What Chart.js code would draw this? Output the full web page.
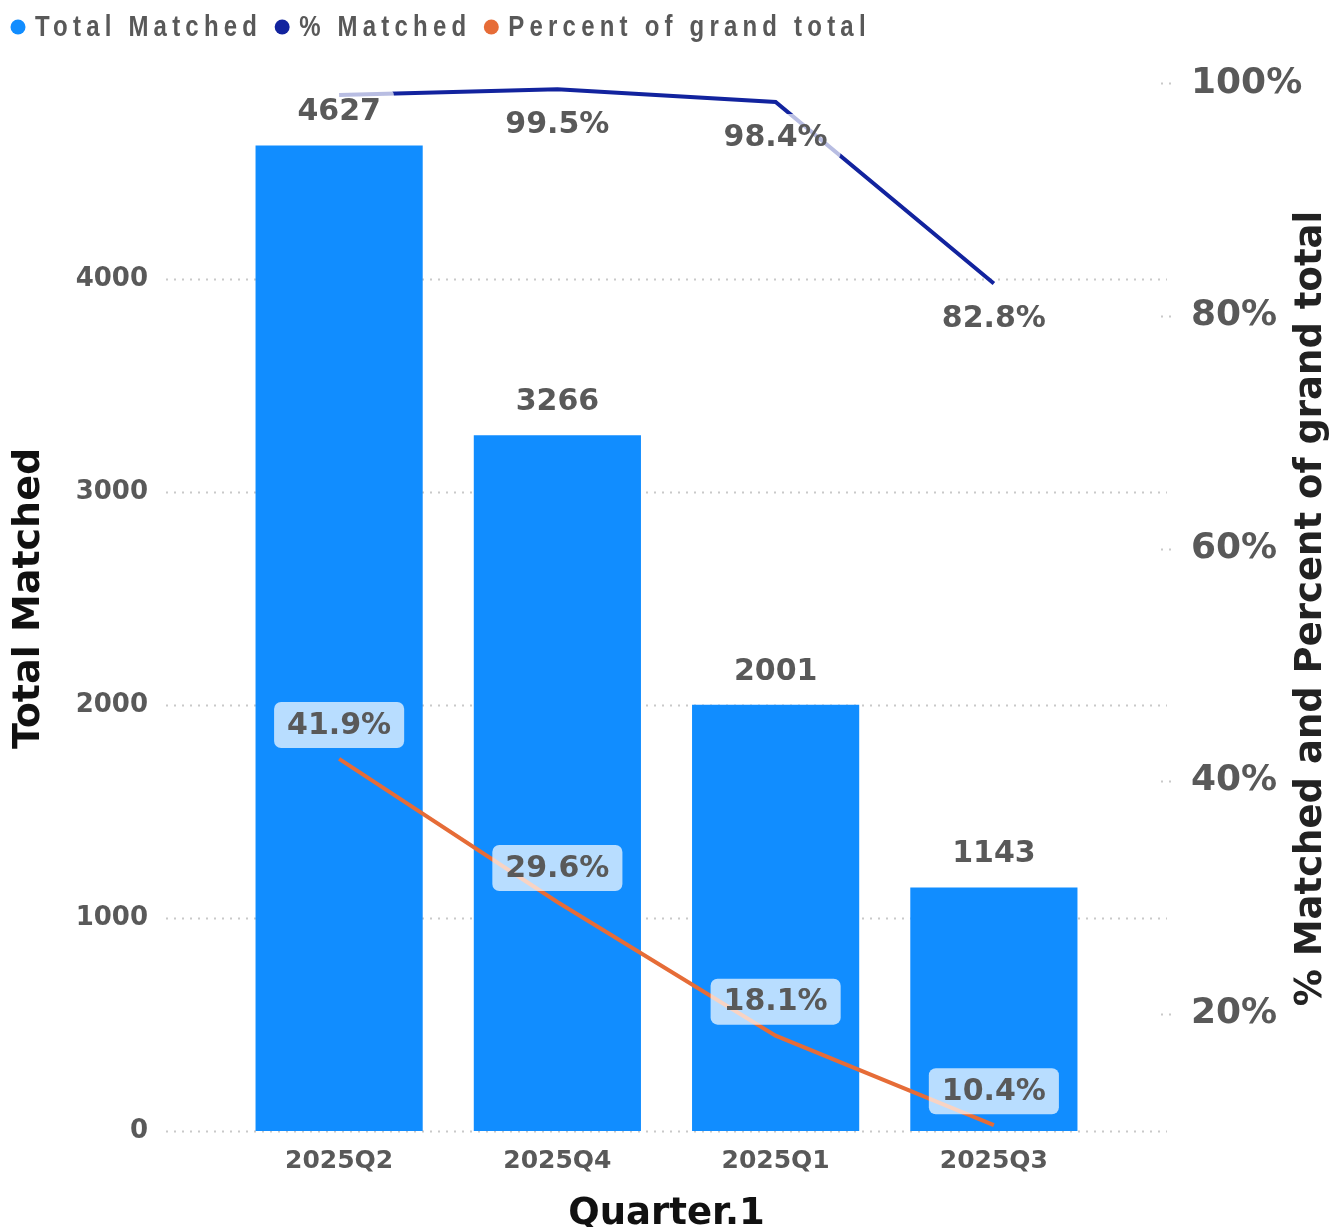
<!DOCTYPE html>
<html>
<head>
<meta charset="utf-8">
<title>Total Matched by Quarter</title>
<script src="https://cdn.jsdelivr.net/npm/chart.js@4.4.1/dist/chart.umd.min.js"></script>
<style>
    html, body { margin: 0; padding: 0; background: #fff; }
    #wrap { width: 1336px; height: 1227px; position: relative; }
</style>
</head>
<body>
<div id="wrap"><canvas id="quarterChart"></canvas></div>
<script>
// data
const quarters = ['2025Q2', '2025Q4', '2025Q1', '2025Q3'];
const totalMatched = [4627, 3266, 2001, 1143];
const pctMatched = [99.0, 99.5, 98.4, 82.8];
const pctOfGrandTotal = [41.9, 29.6, 18.1, 10.4];
const leftTicks = [0, 1000, 2000, 3000, 4000];
const rightTicks = [20, 40, 60, 80, 100];

const FONT = '"DejaVu Sans", Verdana, sans-serif';
const GREY = '#595959';
const BLUE = '#118DFF';
const NAVY = '#12239E';
const ORANGE = '#E66C37';

document.addEventListener('DOMContentLoaded', () => {
    Chart.defaults.font.family = FONT;

    // dotted grid lines that run past the plot area, plus short marks on the right axis
    const dottedGrid = {
        id: 'dottedGrid',
        beforeDatasetsDraw(chart) {
            const { ctx, chartArea, scales } = chart;
            ctx.save();
            ctx.strokeStyle = '#c9c9c9';
            ctx.lineWidth = 2;
            ctx.setLineDash([2, 6]);
            leftTicks.forEach(v => {
                const y = Math.round(scales.y.getPixelForValue(v)) + 0.5;
                ctx.beginPath();
                ctx.moveTo(chartArea.left - 64, y);
                ctx.lineTo(chartArea.right + 64, y);
                ctx.stroke();
            });
            rightTicks.forEach(v => {
                const y = Math.round(scales.y1.getPixelForValue(v)) + 0.5;
                ctx.beginPath();
                ctx.moveTo(chartArea.right + 58, y);
                ctx.lineTo(chartArea.right + 70, y);
                ctx.stroke();
            });
            ctx.restore();
        }
    };

    // data labels: bars above, % matched below, grand total above in a box
    const labelStyle = [
        { offset: -34, fmt: v => String(v) },
        { offset: 35, fmt: v => v.toFixed(1) + '%' },
        { offset: -34, fmt: v => v.toFixed(1) + '%' }
    ];
    const overlaps = (a, b) => a.x < b.x + b.w && b.x < a.x + a.w && a.y < b.y + b.h && b.y < a.y + a.h;

    const valueLabels = {
        id: 'valueLabels',
        afterDatasetsDraw(chart) {
            const { ctx } = chart;
            const placed = [];
            ctx.save();
            ctx.font = `bold 30px ${FONT}`;
            ctx.textAlign = 'center';
            ctx.textBaseline = 'middle';
            chart.data.datasets.forEach((ds, i) => {
                const st = labelStyle[i];
                chart.getDatasetMeta(i).data.forEach((el, j) => {
                    const text = st.fmt(ds.data[j]);
                    const cy = el.y + st.offset;
                    const w = ctx.measureText(text).width + 26;
                    const h = 46;
                    const box = { x: el.x - w / 2, y: cy - h / 2, w, h };
                    if (placed.some(b => overlaps(b, box))) return;
                    placed.push(box);
                    ctx.fillStyle = 'rgba(255, 255, 255, 0.7)';
                    ctx.beginPath();
                    ctx.roundRect(box.x, box.y, w, h, 7);
                    ctx.fill();
                    ctx.fillStyle = GREY;
                    ctx.fillText(text, el.x, cy + 1);
                });
            });
            ctx.restore();
        }
    };

    // legend across the top, plus the right axis title read bottom to top
    const legendAndTitle = {
        id: 'legendAndTitle',
        afterDraw(chart) {
            const { ctx, chartArea } = chart;
            const squeeze = 0.8;
            ctx.save();
            ctx.font = `bold 30px "Liberation Sans", Arial, sans-serif`;
            ctx.letterSpacing = '6.5px';
            ctx.textBaseline = 'middle';
            let x = 10;
            chart.data.datasets.forEach(ds => {
                ctx.fillStyle = ds.borderColor || ds.backgroundColor;
                ctx.beginPath();
                ctx.arc(x + 8, 27, 7.5, 0, Math.PI * 2);
                ctx.fill();
                ctx.fillStyle = GREY;
                ctx.save();
                ctx.translate(x + 25, 28);
                ctx.scale(squeeze, 1);
                ctx.fillText(ds.label, 0, 0);
                ctx.restore();
                x += 25 + ctx.measureText(ds.label).width * squeeze + 12;
            });
            ctx.restore();

            ctx.save();
            ctx.font = `bold 37px ${FONT}`;
            ctx.fillStyle = '#222';
            ctx.textAlign = 'center';
            ctx.textBaseline = 'middle';
            ctx.translate(chart.width - 25, (chartArea.top + chartArea.bottom) / 2 + 10);
            ctx.rotate(-Math.PI / 2);
            ctx.fillText('% Matched and Percent of grand total', 0, 0);
            ctx.restore();
        }
    };

    const noEdgePadding = s => {
        s.paddingTop = 0;
        s.paddingBottom = 0;
        s.paddingLeft = 0;
        s.paddingRight = 0;
    };

    new Chart(document.getElementById('quarterChart'), {
        data: {
            labels: quarters,
            datasets: [
                {
                    type: 'bar',
                    label: 'Total Matched',
                    data: totalMatched,
                    backgroundColor: BLUE,
                    yAxisID: 'y',
                    barPercentage: 0.766,
                    categoryPercentage: 1,
                    order: 3
                },
                {
                    type: 'line',
                    label: '% Matched',
                    data: pctMatched,
                    borderColor: NAVY,
                    backgroundColor: NAVY,
                    borderWidth: 4,
                    pointRadius: 0,
                    tension: 0,
                    yAxisID: 'y1',
                    order: 2
                },
                {
                    type: 'line',
                    label: 'Percent of grand total',
                    data: pctOfGrandTotal,
                    borderColor: ORANGE,
                    backgroundColor: ORANGE,
                    borderWidth: 4,
                    pointRadius: 0,
                    tension: 0,
                    yAxisID: 'y1',
                    order: 1
                }
            ]
        },
        options: {
            responsive: true,
            maintainAspectRatio: false,
            animation: false,
            layout: { padding: { top: 66, left: 0, right: 0, bottom: 0 } },
            plugins: {
                legend: { display: false },
                tooltip: { enabled: false }
            },
            scales: {
                x: {
                    offset: true,
                    grid: { display: false, drawTicks: false },
                    border: { display: false },
                    ticks: {
                        color: GREY,
                        padding: 15,
                        font: { size: 25, weight: 'bold' }
                    },
                    title: {
                        display: true,
                        text: 'Quarter.1',
                        color: '#111',
                        padding: { top: 0, bottom: 0 },
                        font: { size: 37, weight: 'bold', lineHeight: 0.7 }
                    },
                    afterFit: s => { s.height = 96; noEdgePadding(s); }
                },
                y: {
                    position: 'left',
                    min: 0,
                    max: 5000,
                    grid: { display: false, drawTicks: false },
                    border: { display: false },
                    afterBuildTicks: s => { s.ticks = leftTicks.map(v => ({ value: v })); },
                    ticks: {
                        color: GREY,
                        padding: 82,
                        font: { size: 26, weight: 'bold' },
                        callback: v => String(v)
                    },
                    title: {
                        display: true,
                        text: 'Total Matched',
                        color: '#111',
                        padding: { top: 10, bottom: 0 },
                        font: { size: 38, weight: 'bold', lineHeight: 1 }
                    },
                    afterFit: s => { s.width = 230; noEdgePadding(s); }
                },
                y1: {
                    position: 'right',
                    min: 9.9,
                    max: 101.5,
                    grid: { display: false, drawTicks: false },
                    border: { display: false },
                    afterBuildTicks: s => { s.ticks = rightTicks.map(v => ({ value: v })); },
                    ticks: {
                        color: GREY,
                        padding: 88,
                        font: { size: 36, weight: 'bold' },
                        callback: v => v + '%'
                    },
                    afterFit: s => { s.width = 233; noEdgePadding(s); }
                }
            }
        },
        plugins: [dottedGrid, valueLabels, legendAndTitle]
    });
});
</script>
</body>
</html>
